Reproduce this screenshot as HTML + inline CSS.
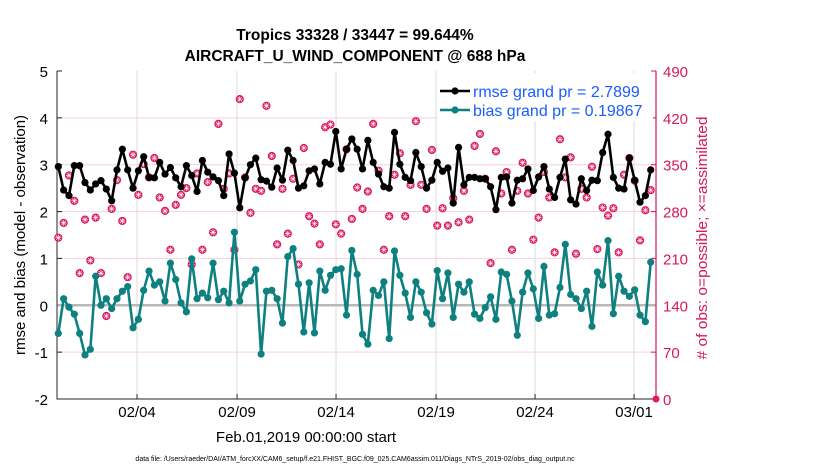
<!DOCTYPE html>
<html><head><meta charset="utf-8"><style>
body{margin:0;background:#fff;}
svg{display:block;font-family:"Liberation Sans",Arial,sans-serif;}
</style></head><body>
<svg id="chart" width="830" height="470" xmlns="http://www.w3.org/2000/svg">
<text x="355" y="40" text-anchor="middle" font-size="15.5" font-weight="bold">Tropics 33328 / 33447 = 99.644%</text>
<text x="355" y="61" text-anchor="middle" font-size="15.5" font-weight="bold">AIRCRAFT_U_WIND_COMPONENT @ 688 hPa</text>
<text x="306" y="442" text-anchor="middle" font-size="15">Feb.01,2019 00:00:00 start</text>
<text x="355" y="461" text-anchor="middle" font-size="7">data file: /Users/raeder/DAI/ATM_forcXX/CAM6_setup/f.e21.FHIST_BGC.f09_025.CAM6assim.011/Diags_NTrS_2019-02/obs_diag_output.nc</text>
<text transform="translate(25,235) rotate(-90)" text-anchor="middle" font-size="15">rmse and bias (model - observation)</text>
<text transform="translate(707,238) rotate(-90)" text-anchor="middle" font-size="15" fill="#d6185a" textLength="243" lengthAdjust="spacingAndGlyphs"># of obs: o=possible; ×=assimilated</text>
<g id="plot"></g>
</svg>
<script>
const rmse=[2.96,2.46,2.34,2.98,2.98,2.62,2.46,2.59,2.66,2.48,2.23,2.89,3.33,2.89,2.50,2.87,3.17,2.73,2.72,3.05,2.80,2.94,2.72,2.53,2.98,2.77,2.43,3.09,2.84,2.74,2.66,2.34,3.23,2.82,2.08,2.72,3.0,3.14,2.68,2.65,2.52,2.93,2.67,3.31,3.09,2.50,2.55,2.87,2.91,2.59,3.05,3.01,3.71,2.91,3.33,3.55,3.33,2.91,3.52,3.05,2.80,2.53,2.50,3.69,3.01,2.73,2.66,3.26,2.96,2.50,2.67,3.05,2.86,2.93,2.18,3.37,2.57,2.73,2.73,2.70,2.70,2.53,2.04,2.73,2.74,2.18,2.67,2.70,2.91,2.45,2.74,2.96,2.48,2.30,2.73,3.12,2.25,2.16,2.70,2.45,2.67,2.66,3.26,3.65,2.73,2.50,2.48,3.14,2.67,2.20,2.34,2.89];
const bias=[-0.60,0.14,-0.04,-0.19,-0.60,-1.06,-0.94,0.62,0.0,0.14,-0.07,0.14,0.30,0.40,-0.48,-0.30,0.32,0.73,0.43,0.50,0.09,0.90,0.55,0.05,-0.14,0.99,0.14,0.26,0.16,0.90,0.12,0.30,0.05,1.56,0.09,0.45,0.52,0.76,-1.04,0.30,0.32,0.14,-0.38,1.04,1.21,0.45,-0.57,0.48,-0.59,0.73,0.32,0.64,0.76,0.78,-0.21,1.17,0.66,-0.62,-0.83,0.32,0.21,0.50,-0.71,1.16,0.64,0.26,-0.26,0.50,0.28,-0.16,-0.40,0.74,0.14,0.69,-0.26,0.45,0.28,0.50,-0.19,-0.28,-0.05,0.18,-0.30,0.71,0.66,0.09,-0.64,0.28,0.69,0.35,-0.28,0.83,-0.21,-0.18,0.38,1.30,0.23,0.14,-0.07,0.30,-0.45,0.71,0.43,1.38,-0.18,0.62,0.30,0.19,0.33,-0.21,-0.35,0.92];
const obsCount=[241,263,334,296,188,268,207,271,188,124,284,327,266,182,365,305,351,331,360,301,281,223,290,305,315,201,337,223,324,249,411,314,337,223,448,331,278,314,311,438,363,231,314,247,329,201,375,273,262,231,406,410,261,247,373,269,316,284,310,411,341,223,273,335,367,273,320,415,320,284,372,259,285,259,300,264,311,268,378,396,329,203,370,307,339,223,311,353,307,238,271,339,301,219,388,331,361,217,314,301,347,224,286,274,285,219,335,360,326,237,282,312];
const leftTicks=[-2,-1,0,1,2,3,4,5];
const rightTicks=[0,70,140,210,280,350,420,490];
const xTickIdx=[14.75,33.49,52.04,70.78,89.33,107.88];
const xTickLabels=["02/04","02/09","02/14","02/19","02/24","03/01"];

const NS="http://www.w3.org/2000/svg";
const L=57,R=656,T=71,B=399;
const xS=i=>58.3+i*5.337;
const yS=v=>B-(v+2)*(B-T)/7;
const yR=c=>B-c*(B-T)/490;
const g=document.getElementById('plot');
function mk(tag,attrs,parent){const e=document.createElementNS(NS,tag);for(const k in attrs)e.setAttribute(k,attrs[k]);(parent||g).appendChild(e);return e;}

xTickIdx.forEach((t,i)=>{
  const gl=mk('line',{x1:xS(t),x2:xS(t),y1:T,y2:B,stroke:'#dcdcdc','stroke-width':1});
  
  
  const tl=mk('text',{x:xS(t),y:B+18,'text-anchor':'middle','font-size':15});
  tl.textContent=xTickLabels[i];
  
  
  mk('line',{x1:xS(t),x2:xS(t),y1:B,y2:B-5,stroke:'#262626'});
});
leftTicks.forEach(v=>{
  if(v!==0&&v!==-2&&v!==5){const gl=mk('line',{x1:L,x2:R,y1:yS(v),y2:yS(v),stroke:'#f6cfe0','stroke-width':1});
  
  }
  const tl=mk('text',{x:L-9,y:yS(v)+6,'text-anchor':'end','font-size':15});
  tl.textContent=v;
  
  
  mk('line',{x1:L,x2:L+5,y1:yS(v),y2:yS(v),stroke:'#262626'});
});
rightTicks.forEach(c=>{
  const tl=mk('text',{x:R+7,y:yR(c)+6,'font-size':15,fill:'#d6185a'});
  tl.textContent=c;
  
  
  mk('line',{x1:R,x2:R-5,y1:yR(c),y2:yR(c),stroke:'#d6185a'});
});
const zl=mk('line',{x1:L,x2:R,y1:yS(0),y2:yS(0),stroke:'#b8b8b8','stroke-width':2.5});



const ax=mk('path',{d:`M${L},${T}V${B}H${R}`,fill:'none',stroke:'#262626','stroke-width':1});


const ra=mk('line',{x1:R,x2:R,y1:T,y2:B,stroke:'#d6185a','stroke-width':1.2});



obsCount.forEach((c,i)=>{
  const m=mk('g',{transform:`translate(${xS(i)},${yR(c)})`});
  
  
  mk('circle',{r:3.6,fill:'#e3186a',stroke:'#d6185a'},m);
  mk('path',{d:'M-3,0H3M0,-3V3M-2.2,-2.2L2.2,2.2M-2.2,2.2L2.2,-2.2',stroke:'#fff','stroke-width':0.6},m);
});
const lastObs=mk('circle',{cx:R,cy:B,r:3.5,fill:'#e3186a'});



function series(vals,color,name){
  const p=mk('polyline',{points:vals.map((v,i)=>xS(i)+','+yS(v)).join(' '),fill:'none',stroke:color,'stroke-width':2.6,'stroke-linejoin':'round'});
  
  
  vals.forEach((v,i)=>{
    const c=mk('circle',{cx:xS(i),cy:yS(v),r:3.6,fill:color});
    
    
  });
}
series(bias,'#0e8080','bias');
series(rmse,'#000000','rmse');

const lg=mk('g',{});


mk('rect',{x:438,y:73,width:215,height:48,fill:'#fff',stroke:'none'},lg);
mk('line',{x1:440,x2:470,y1:91,y2:91,stroke:'#000','stroke-width':2.6},lg);
mk('circle',{cx:455,cy:91,r:3.6,fill:'#000'},lg);
const t1=mk('text',{x:473,y:97,'font-size':16,fill:'#1a5cff'},lg);t1.textContent='rmse grand pr = 2.7899';


mk('line',{x1:440,x2:470,y1:110,y2:110,stroke:'#0e8080','stroke-width':2.6},lg);
mk('circle',{cx:455,cy:110,r:3.6,fill:'#0e8080'},lg);
const t2=mk('text',{x:473,y:116,'font-size':16,fill:'#1a5cff'},lg);t2.textContent='bias grand pr = 0.19867';


</script>
</body></html>
